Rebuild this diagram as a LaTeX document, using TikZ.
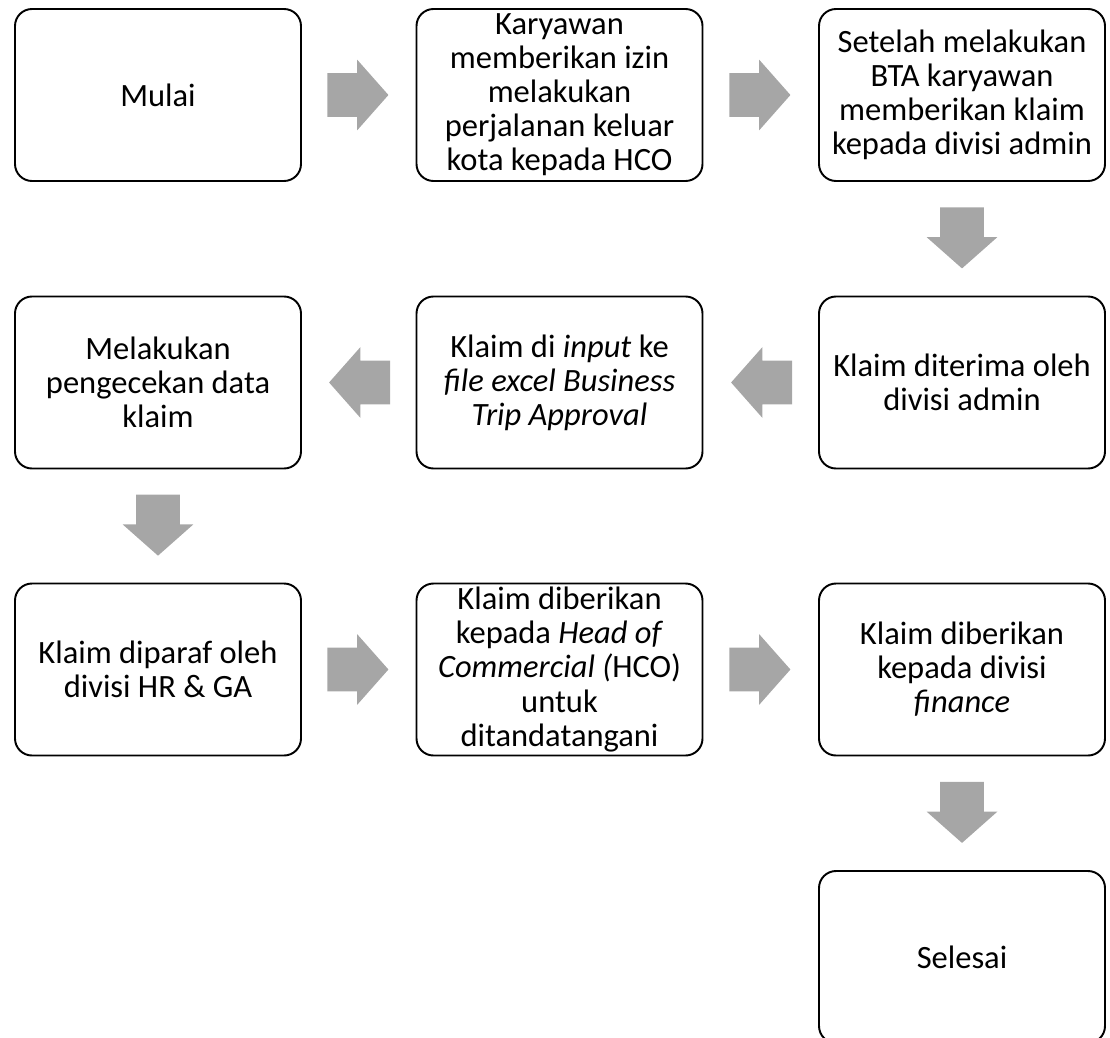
\documentclass[tikz,border=0pt]{standalone}
\usepackage{fontspec}
\setmainfont{Carlito}
\usepackage{tikz}
\usetikzlibrary{calc}
\usetikzlibrary{math}
\usetikzlibrary{shapes.arrows}

\definecolor{arrowgray}{RGB}{166,166,166}

\tikzset{
procbox/.style={draw, line width=1.1pt, rounded corners=0.34cm, minimum width=5.72cm, minimum height=3.44cm, align=center, inner sep=0pt, font=\fontsize{18.5pt}{19.4pt}\selectfont},
blockarrow/.style={single arrow, fill=arrowgray, draw=none, inner xsep=0pt, inner ysep=0.43cm, minimum height=1.22cm, single arrow head extend=0.27cm, single arrow tip angle=97, rotate=#1, xshift=-0.21cm},
blockarrow/.default=0,
}

\begin{document}
\begin{tikzpicture}
\tikzmath{
\xa=3.16; \xb=11.19; \xc=19.24;
\ya=-1.90; \yb=-7.65; \yc=-13.39; \yd=-19.14;
}
\useasboundingbox (0,0) rectangle (22.2,-20.76);

\node[procbox] (mulai) at (\xa,\ya) {Mulai};
\node[procbox] (izin) at (\xb,\ya) {Karyawan\\memberikan izin\\melakukan\\perjalanan keluar\\kota kepada HCO};
\node[procbox] (bta) at (\xc,\ya) {Setelah melakukan\\BTA karyawan\\memberikan klaim\\kepada divisi admin};

\node[procbox] (diterima) at (\xc,\yb) {Klaim diterima oleh\\divisi admin};
\node[procbox] (input) at (\xb,\yb) {Klaim di \textit{input} ke\\\textit{file excel Business}\\\textit{Trip Approval}};
\node[procbox] (cek) at (\xa,\yb) {Melakukan\\pengecekan data\\klaim};

\node[procbox] (paraf) at (\xa,\yc) {Klaim diparaf oleh\\divisi HR \& GA};
\node[procbox] (hco) at (\xb,\yc) {Klaim diberikan\\kepada \textit{Head of}\\\textit{Commercial (}HCO)\\untuk\\ditandatangani};
\node[procbox] (finance) at (\xc,\yc) {Klaim diberikan\\kepada divisi\\\textit{finance}};

\node[procbox] (selesai) at (\xc,\yd) {Selesai};

% arrows
\node[blockarrow] (a1) at ($(mulai.east)!0.5!(izin.west)$) {};
\node[blockarrow] (a2) at ($(izin.east)!0.5!(bta.west)$) {};
\node[blockarrow=-90] (a3) at ($(bta.south)!0.5!(diterima.north)$) {};
\node[blockarrow=180] (a4) at ($(diterima.west)!0.5!(input.east)$) {};
\node[blockarrow=180] (a5) at ($(input.west)!0.5!(cek.east)$) {};
\node[blockarrow=-90] (a6) at ($(cek.south)!0.5!(paraf.north)$) {};
\node[blockarrow] (a7) at ($(paraf.east)!0.5!(hco.west)$) {};
\node[blockarrow] (a8) at ($(hco.east)!0.5!(finance.west)$) {};
\node[blockarrow=-90] (a9) at ($(finance.south)!0.5!(selesai.north)$) {};

\end{tikzpicture}
\end{document}
